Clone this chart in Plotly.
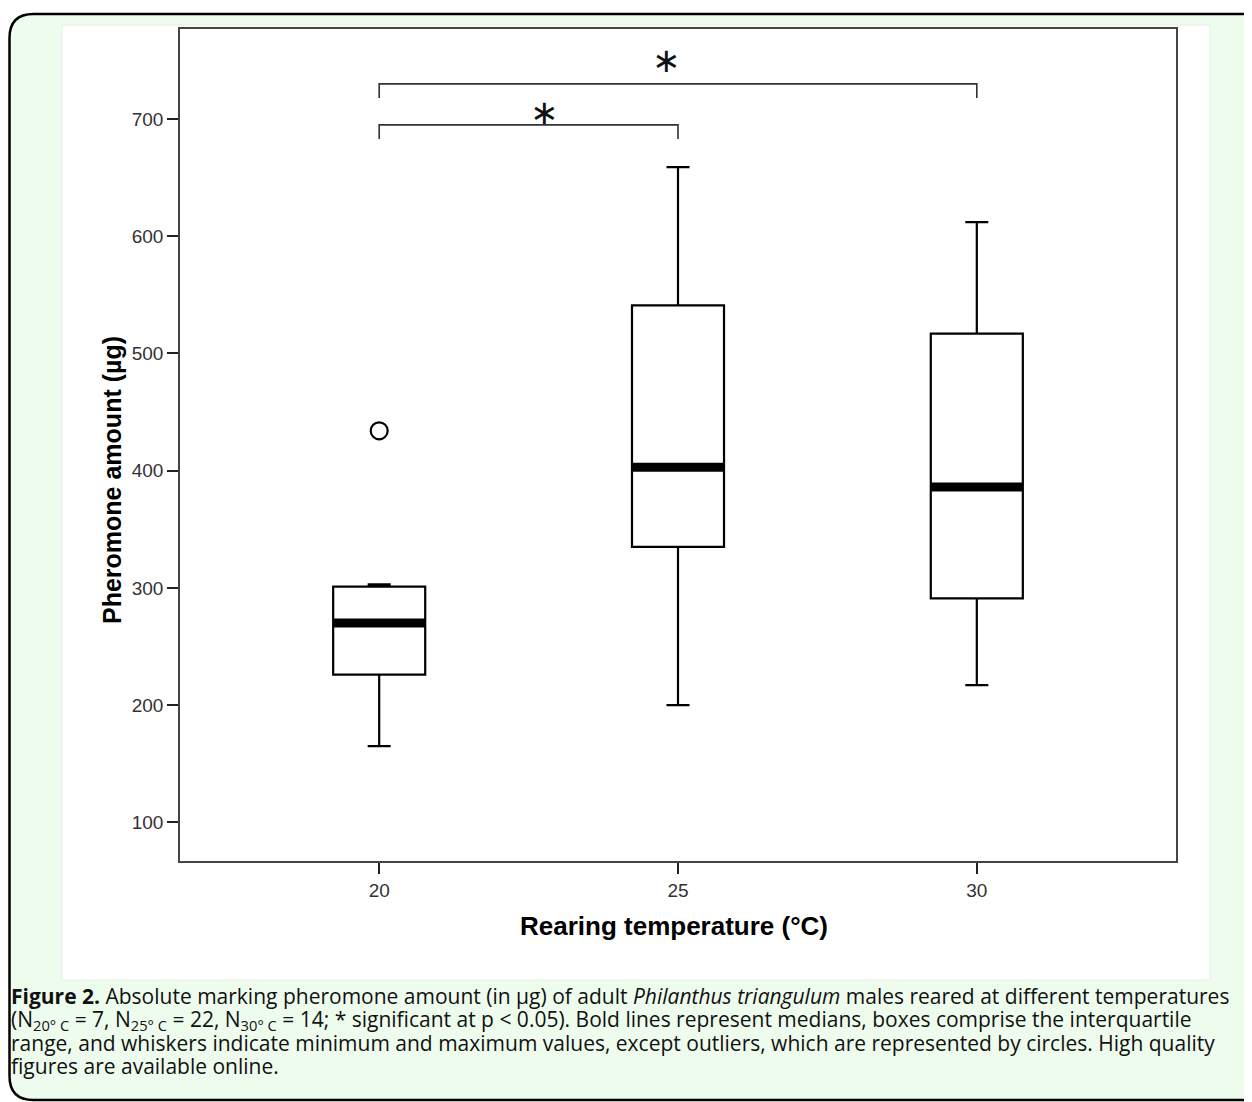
import plotly.graph_objects as go

# ---- data ----
temps = [20, 25, 30]
lower_whisker = [165, 200, 217]
q1_values = [226, 335, 291]
median_values = [270, 403, 386]
q3_values = [301, 541, 517]
upper_whisker = [303, 659, 612]
outlier_temps = [20]
outlier_values = [434]
sig_pairs = [(20, 25), (20, 30)]
sig_labels = ["*", "*"]
y_ticks = [100, 200, 300, 400, 500, 600, 700]
x_ticks = [20, 25, 30]

# page has an 8px body margin; the figure fills the rest of the window
OFF = 8
W, H = 1252 - OFF, 1102 - OFF
L, R, T, B = 180, 1176, 29, 861   # plot area in window pixels


def px(x):
    return (x - L) / (R - L)


def py(y):
    return (B - y) / (B - T)


BOX_W = 1.54
fig = go.Figure()

fig.add_trace(go.Box(
    x=temps, q1=q1_values, median=median_values, q3=q3_values,
    lowerfence=lower_whisker, upperfence=upper_whisker,
    width=BOX_W, whiskerwidth=0.25, fillcolor="white",
    line=dict(color="black", width=2.2), boxpoints=False,
    showlegend=False, hoverinfo="skip"))

# bold median lines
mx, my = [], []
for t, m in zip(temps, median_values):
    mx += [t - BOX_W / 2, t + BOX_W / 2, None]
    my += [m, m, None]
fig.add_trace(go.Scatter(x=mx, y=my, mode="lines",
                         line=dict(color="black", width=9),
                         showlegend=False, hoverinfo="skip"))

# outliers
fig.add_trace(go.Scatter(x=outlier_temps, y=outlier_values, mode="markers",
                         marker=dict(symbol="circle-open", size=17,
                                     color="black", line=dict(width=2.2)),
                         showlegend=False, hoverinfo="skip"))

# significance brackets
bracket_levels = [695, 730]
bracket_drop = 12
star_frac = [0.552, 0.48]
star_levels = [706, 750]
for (a, b), lvl, lab, fr, sy in zip(sig_pairs, bracket_levels, sig_labels,
                                    star_frac, star_levels):
    fig.add_trace(go.Scatter(x=[a, a, b, b],
                             y=[lvl - bracket_drop, lvl, lvl, lvl - bracket_drop],
                             mode="lines", line=dict(color="#333333", width=1.6),
                             showlegend=False, hoverinfo="skip"))
    fig.add_annotation(x=a + (b - a) * fr, y=sy, xref="x", yref="y",
                       text="\u2217" if lab == "*" else lab, showarrow=False,
                       font=dict(family="DejaVu Sans", size=34, color="#111111"),
                       xanchor="center", yanchor="middle")

axis_common = dict(showline=True, mirror=True, linecolor="#444444", linewidth=1.6,
                   ticks="outside", ticklen=11, tickwidth=2, tickcolor="#222222",
                   showgrid=False, zeroline=False,
                   tickfont=dict(family="Liberation Sans, Arial", size=19, color="#333333"))

fig.update_xaxes(range=[16.667, 33.333], tickvals=x_ticks,
                 ticktext=[str(v) for v in x_ticks], **axis_common)
fig.update_yaxes(range=[67.0, 776.8], tickvals=y_ticks,
                 ticktext=[str(v) for v in y_ticks], **axis_common)

# axis titles
fig.add_annotation(x=px(112), y=py(480), xref="paper", yref="paper",
                   text="<b>Pheromone amount (µg)</b>", textangle=-90, showarrow=False,
                   font=dict(family="Liberation Sans, Arial", size=25, color="black"),
                   xanchor="center", yanchor="middle")
fig.add_annotation(x=px(674), y=py(926), xref="paper", yref="paper",
                   text="<b>Rearing temperature (°C)</b>", showarrow=False,
                   font=dict(family="Liberation Sans, Arial", size=26, color="black"),
                   xanchor="center", yanchor="middle")

# caption
caption_lines = [
    "<b>Figure 2.</b> Absolute marking pheromone amount (in µg) of adult <i>Philanthus triangulum</i> males reared at different temperatures",
    "(N<sub>20° C</sub> = 7, N<sub>25° C</sub> = 22, N<sub>30° C</sub> = 14; * significant at p < 0.05). Bold lines represent medians, boxes comprise the interquartile",
    "range, and whiskers indicate minimum and maximum values, except outliers, which are represented by circles. High quality",
    "figures are available online.",
]
cap_y = [996, 1020, 1043, 1066]
for line, yy in zip(caption_lines, cap_y):
    fig.add_annotation(x=px(9), y=py(yy), xref="paper", yref="paper", text=line,
                       showarrow=False, xanchor="left", yanchor="middle",
                       font=dict(family="Open Sans", size=21, color="#111111"))

# green rounded panel, white chart panel
r = 24
bx0, by0, bx1, by1 = 9.5, 14, 1275, 1100
path = (f"M {px(bx0)},{py(by0 + r)} Q {px(bx0)},{py(by0)} {px(bx0 + r)},{py(by0)} "
        f"L {px(bx1 - r)},{py(by0)} Q {px(bx1)},{py(by0)} {px(bx1)},{py(by0 + r)} "
        f"L {px(bx1)},{py(by1 - r)} Q {px(bx1)},{py(by1)} {px(bx1 - r)},{py(by1)} "
        f"L {px(bx0 + r)},{py(by1)} Q {px(bx0)},{py(by1)} {px(bx0)},{py(by1 - r)} Z")
shapes = [dict(type="path", xref="paper", yref="paper", path=path,
               fillcolor="#eefcee", line=dict(color="black", width=2.5), layer="below"),
          dict(type="rect", xref="paper", yref="paper", x0=px(62), x1=px(1210),
               y0=py(980), y1=py(25), fillcolor="white",
               line=dict(color="#e8ece8", width=1), layer="below")]

fig.update_layout(width=W, height=H, shapes=shapes,
                  margin=dict(l=L - OFF, r=1252 - R, t=T - OFF, b=1102 - B, pad=0),
                  paper_bgcolor="white", plot_bgcolor="white",
                  showlegend=False)

fig.write_html("out.html")
